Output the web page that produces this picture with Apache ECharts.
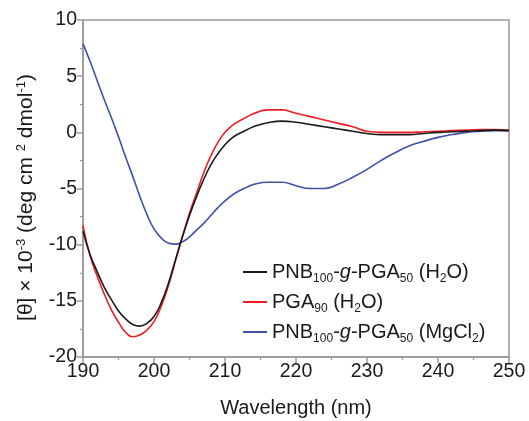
<!DOCTYPE html>
<html>
<head>
<meta charset="utf-8">
<script src="https://cdn.jsdelivr.net/npm/echarts@6/dist/echarts.min.js"></script>
<style>html,body{margin:0;padding:0;background:#fff}#c{width:529px;height:421px}</style>
</head>
<body>
<div id="c"></div>
<script>
const wavelength = [190,191,192,193,194,195,196,197,198,199,200,201,202,203,204,205,206,207,208,209,210,211,212,213,214,216,218,220,222,224,226,228,230,232,234,236,238,240,242,244,246,248,250];
const blackH2O = [-8.8,-10.9,-12.4,-13.8,-14.9,-15.9,-16.6,-17.1,-17.25,-17.0,-16.4,-15.2,-13.5,-11.4,-9.3,-7.4,-5.7,-4.2,-2.9,-1.9,-1.1,-0.5,-0.1,0.2,0.5,0.85,1.0,0.9,0.7,0.5,0.3,0.1,-0.1,-0.2,-0.2,-0.2,-0.1,0.0,0.05,0.1,0.15,0.2,0.15];
const redPGA = [-8.3,-11.0,-12.8,-14.4,-15.8,-16.9,-17.8,-18.2,-18.05,-17.6,-16.85,-15.5,-13.7,-11.5,-9.3,-7.2,-5.4,-3.6,-2.1,-0.9,0.0,0.6,1.0,1.35,1.65,2.0,2.0,1.7,1.4,1.1,0.8,0.5,0.1,0.0,0.0,0.0,0.05,0.1,0.15,0.2,0.25,0.25,0.2];
const blueMgCl2 = [7.9,6.3,4.6,2.9,1.3,-0.4,-2.2,-3.9,-5.7,-7.3,-8.6,-9.4,-9.85,-9.95,-9.75,-9.3,-8.7,-8.1,-7.4,-6.7,-6.1,-5.6,-5.2,-4.9,-4.65,-4.45,-4.45,-4.75,-5.0,-5.0,-4.6,-4.0,-3.3,-2.5,-1.8,-1.2,-0.8,-0.45,-0.2,0.0,0.1,0.15,0.15];
const seriesNames = ['PNB100-g-PGA50 (H2O)','PGA90 (H2O)','PNB100-g-PGA50 (MgCl2)'];
const legendRich = {
  'PNB100-g-PGA50 (H2O)': 'PNB{sub|100}-{it|g}-PGA{sub|50} (H{sub|2}O)',
  'PGA90 (H2O)': 'PGA{sub|90} (H{sub|2}O)',
  'PNB100-g-PGA50 (MgCl2)': 'PNB{sub|100}-{it|g}-PGA{sub|50} (MgCl{sub|2})'
};
const xTicks = [190,200,210,220,230,240,250];
const yTicks = [-20,-15,-10,-5,0,5,10];

function pairs(ys){ return wavelength.map((x,i)=>[x,ys[i]]); }

const font = 'Liberation Sans, Arial, sans-serif';
const axisGray = '#999';
const chart = echarts.init(document.getElementById('c'), null, {renderer:'canvas'});
chart.setOption({
  animation:false,
  backgroundColor:'#fff',
  grid:{left:83,right:20,top:20,bottom:64,show:true,borderColor:axisGray,borderWidth:1.5,backgroundColor:'transparent',containLabel:false,outerBoundsMode:'none'},
  legend:{
    orient:'vertical', left:238, top:254, itemWidth:24, itemHeight:2, itemGap:4, icon:'rect',
    data:seriesNames,
    formatter:n=>legendRich[n],
    textStyle:{fontFamily:font,fontSize:20,color:'#1a1a1a',lineHeight:26,
      rich:{sub:{fontFamily:font,fontSize:12,lineHeight:8,verticalAlign:'bottom',color:'#1a1a1a'},
            it:{fontFamily:font,fontSize:20,fontStyle:'italic',lineHeight:26,color:'#1a1a1a'}}}
  },
  xAxis:{
    type:'value', min:xTicks[0], max:xTicks[xTicks.length-1], interval:10,
    name:'Wavelength (nm)', nameLocation:'middle', nameGap:41,
    nameTextStyle:{fontFamily:font,fontSize:20,color:'#1a1a1a'},
    axisLine:{onZero:false,lineStyle:{color:axisGray,width:1.5}},
    axisTick:{length:6,lineStyle:{color:axisGray,width:1.5}},
    minorTick:{show:true,splitNumber:2,length:3,lineStyle:{color:axisGray,width:1.2}},
    splitLine:{show:false},
    axisLabel:{fontFamily:font,fontSize:19.5,color:'#1a1a1a',margin:5}
  },
  yAxis:{
    type:'value', min:yTicks[0], max:yTicks[yTicks.length-1], interval:5,
    name:'[θ] × 10{sup|-3} (deg cm {sup|2} dmol{sup|-1}){gap|}', nameLocation:'middle', nameGap:46,
    nameTextStyle:{fontFamily:font,fontSize:21,color:'#1a1a1a',lineHeight:22,
      rich:{sup:{fontFamily:font,fontSize:13,lineHeight:8,verticalAlign:'top',color:'#1a1a1a'},
            gap:{width:18,fontSize:21,lineHeight:22}}},
    axisLine:{onZero:false,lineStyle:{color:axisGray,width:1.5}},
    axisTick:{length:6,lineStyle:{color:axisGray,width:1.5}},
    minorTick:{show:true,splitNumber:2,length:3,lineStyle:{color:axisGray,width:1.2}},
    splitLine:{show:false},
    axisLabel:{fontFamily:font,fontSize:19.5,color:'#1a1a1a',margin:6}
  },
  series:[
    {name:seriesNames[0],type:'line',data:pairs(blackH2O),symbol:'none',smooth:0.5,lineStyle:{color:'#1a1a1a',width:1.6},itemStyle:{color:'#1a1a1a'},z:3},
    {name:seriesNames[1],type:'line',data:pairs(redPGA),symbol:'none',smooth:0.5,lineStyle:{color:'#f01c22',width:1.6},itemStyle:{color:'#f01c22'},z:2},
    {name:seriesNames[2],type:'line',data:pairs(blueMgCl2),symbol:'none',smooth:0.5,lineStyle:{color:'#3e50a8',width:1.6},itemStyle:{color:'#3e50a8'},z:1}
  ]
});
</script>
</body>
</html>
